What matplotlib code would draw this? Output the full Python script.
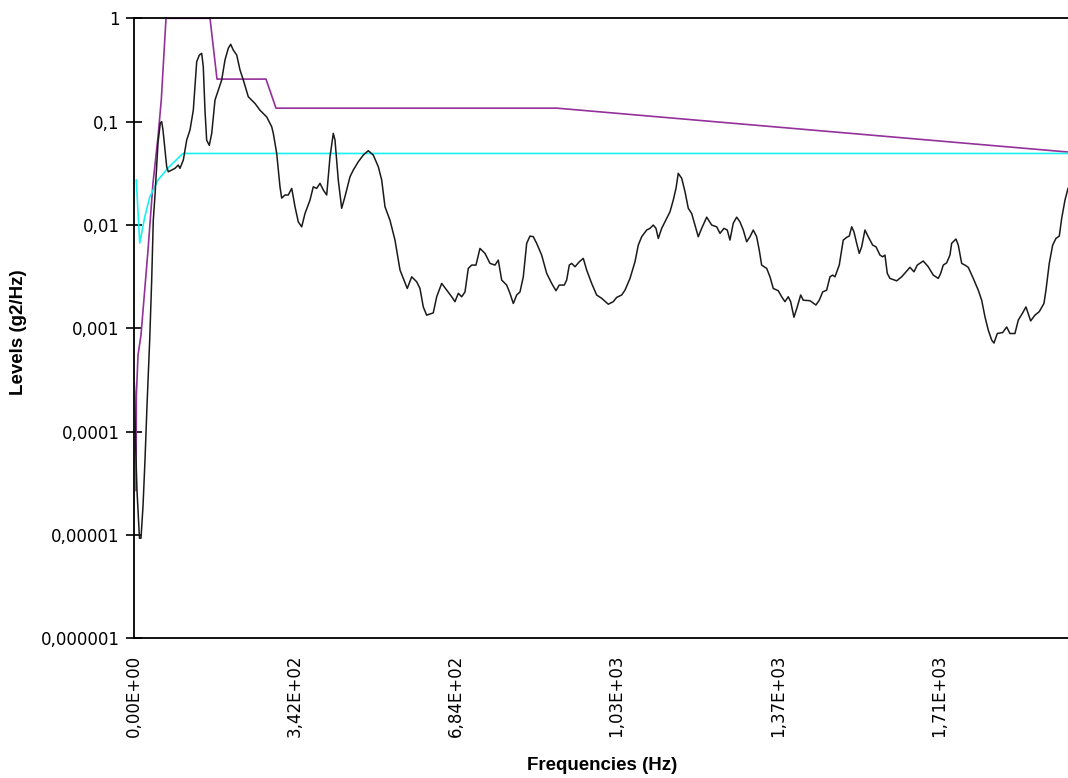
import matplotlib
matplotlib.use("Agg")
import matplotlib.pyplot as plt
import numpy as np
from matplotlib.ticker import FixedLocator, FixedFormatter, NullLocator

# ---- data -------------------------------------------------------------
meas_freq = [0, 2.5, 4.2, 7.4, 12.7, 15.9, 20.2, 24.4, 28.7, 34.4, 38.6, 42.0, 45.7, 52.0,
             56.9, 59.9, 62.6, 70.5, 73.9, 81.1, 88.1, 95.1, 98.7, 105.8, 113, 120, 127,
             134.2, 139.7, 144.8, 148.2, 151.8, 155.4, 161, 166.1, 173.1, 180.1, 187.3,
             194.3, 201.3, 206.4, 211.9, 219.2, 226.2, 233.2, 243.8, 258, 268.6, 282.9,
             293.5, 296.9, 304.1, 311.1, 314.7, 321.7, 328.7, 336, 343, 350, 357.2, 364.2,
             374.8, 381.8, 389, 396.1, 403.1, 410.3, 417.3, 424.3, 427.9, 434.9, 442.1,
             449.1, 459.8, 466.8, 477.4, 488, 498.6, 509.2, 519.9, 527.1, 534.1, 544.7,
             555.3, 566, 573, 581.4, 590.8, 601.4, 608.4, 615.4, 622.6, 636.6, 643.9,
             654.5, 665.1, 675.7, 682.7, 689.8, 697, 704, 711, 718.2, 727.3, 735.8, 746.4,
             757.1, 767.7, 774.7, 781.9, 792.5, 799.5, 806.6, 813.8, 820.8, 827.8, 835,
             842, 849, 856.2, 866.8, 877.5, 888.1, 897.2, 904.2, 914.8, 919.9, 925.5,
             930.6, 937.6, 946.7, 955.2, 962.4, 973, 983.6, 994.3, 1008.3, 1018.9, 1026.1,
             1036.7, 1043.8, 1054.4, 1065, 1072, 1079.2, 1089.8, 1096.8, 1103.9, 1109.6,
             1114.5, 1121.7, 1132.3, 1139.3, 1146.3, 1152.1, 1156.9, 1164.2, 1171.2,
             1178.2, 1185.4, 1192.4, 1199.4, 1206.6, 1217.3, 1227.9, 1238.5, 1245.5, 1254,
             1261, 1266.7, 1273.7, 1281, 1288, 1295, 1302.2, 1309.2, 1316.2, 1323.4,
             1328.9, 1334, 1344.7, 1351.7, 1358.7, 1369.3, 1376.5, 1383.5, 1390.5, 1395.6,
             1402.6, 1409.6, 1416.9, 1422.4, 1436.6, 1449.3, 1456.4, 1463.6, 1472.1,
             1479.1, 1484.8, 1489.7, 1498.8, 1507.3, 1514.5, 1520.1, 1525.2, 1530, 1535.8,
             1541.3, 1546.4, 1553.4, 1560.4, 1569.8, 1576.8, 1585.3, 1591, 1595.9, 1600.8,
             1606.5, 1620.7, 1631.4, 1640.5, 1649, 1657.5, 1664.5, 1677.2, 1687.8, 1698.5,
             1709.1, 1714.2, 1719.7, 1726.9, 1733.9, 1737.5, 1746.7, 1751.6, 1758.8,
             1765.8, 1772.8, 1783.4, 1794, 1801.3, 1808.3, 1815.3, 1822.5, 1827.4, 1834.4,
             1845.9, 1854.4, 1861.3, 1871.9, 1879, 1888.3, 1895.3, 1905.3, 1914.4, 1923.6,
             1933.5, 1937.8, 1944.8, 1952, 1959, 1966.1, 1971.2, 1978.2, 1984.6]
meas_level = [4.7e-4, 2.4e-4, 8.3e-5, 2.7e-5, 9.3e-6, 9.3e-6, 1.9e-5, 5.3e-5, 1.8e-4, 7.7e-4,
              2.9e-3, 0.0111, 0.0195, 0.062, 0.097, 0.0998, 0.083, 0.0366, 0.0327, 0.034,
              0.0353, 0.038, 0.0353, 0.0425, 0.0664, 0.083, 0.129, 0.38, 0.44, 0.458, 0.34,
              0.129, 0.066, 0.059, 0.077, 0.162, 0.202, 0.253, 0.395, 0.513, 0.56, 0.493,
              0.441, 0.316, 0.253, 0.174, 0.150, 0.129, 0.111, 0.0893, 0.077, 0.0493,
              0.0234, 0.0182, 0.0195, 0.0195, 0.0226, 0.015, 0.0107, 0.0096, 0.0129,
              0.0174, 0.0234, 0.0226, 0.0253, 0.0218, 0.0195, 0.0457, 0.077, 0.0664,
              0.0272, 0.0145, 0.0188, 0.0293, 0.034, 0.0409, 0.0475, 0.0523, 0.0475,
              0.0366, 0.0272, 0.015, 0.0111, 0.00714, 0.00366, 0.00304, 0.00243, 0.00315,
              0.00282, 0.00243, 0.00161, 0.00134, 0.00141, 0.00202, 0.00272, 0.00234,
              0.00202, 0.00181, 0.00218, 0.00202, 0.00225, 0.0038, 0.00409, 0.00409,
              0.00593, 0.00531, 0.00425, 0.00409, 0.00457, 0.00293, 0.00262, 0.00218,
              0.00174, 0.0021, 0.00225, 0.00315, 0.00664, 0.00781, 0.0077, 0.00664,
              0.00511, 0.0034, 0.00272, 0.00231, 0.00262, 0.00262, 0.00293, 0.00409,
              0.00425, 0.00394, 0.0044, 0.00475, 0.00366, 0.00272, 0.0021, 0.00195,
              0.00171, 0.00181, 0.00199, 0.0021, 0.00234, 0.00304, 0.0044, 0.00638,
              0.00769, 0.00893, 0.00927, 0.00998, 0.00927, 0.00741, 0.00927, 0.0116,
              0.0134, 0.0174, 0.0226, 0.0316, 0.0283, 0.021, 0.0145, 0.0129, 0.00998,
              0.00769, 0.00927, 0.0119, 0.00998, 0.0096, 0.0083, 0.00927, 0.00893,
              0.00714, 0.0104, 0.0119, 0.0107, 0.00893, 0.00688, 0.00769, 0.00893,
              0.00769, 0.00571, 0.00409, 0.0038, 0.00315, 0.00243, 0.00231, 0.00202,
              0.00181, 0.00202, 0.00181, 0.00128, 0.00161, 0.0021, 0.00187, 0.00185,
              0.00168, 0.00187, 0.00225, 0.00234, 0.00315, 0.00327, 0.00315, 0.00409,
              0.00714, 0.00759, 0.00781, 0.0096, 0.00859, 0.00664, 0.00531, 0.00615,
              0.00893, 0.00769, 0.00638, 0.00615, 0.00511, 0.00492, 0.00511, 0.0034,
              0.00304, 0.00288, 0.00315, 0.00352, 0.00389, 0.00352, 0.00409, 0.00448,
              0.00394, 0.00327, 0.00304, 0.0034, 0.00409, 0.0043, 0.00511, 0.00664,
              0.00731, 0.00638, 0.00425, 0.00409, 0.00389, 0.00304, 0.00234, 0.00187,
              0.00129, 0.00096, 0.00077, 0.00072, 0.00089, 0.00091, 0.00103, 0.00089,
              0.00089, 0.0012, 0.00141, 0.00161, 0.00118, 0.00134, 0.00145, 0.00174,
              0.00234, 0.00425, 0.00638, 0.00741, 0.00781, 0.0116, 0.0174, 0.0226]

upper_freq = [5.3, 6.0, 9.6, 15.9, 30.8, 41.4, 52, 59, 69, 162.5, 177.3, 281.4, 302.6,
              899.3, 1984.6]
upper_level = [2.7e-5, 2.2e-4, 5.5e-4, 8.6e-4, 5.7e-3, 0.0254, 0.071, 0.162, 1.0, 1.0,
               0.258, 0.258, 0.135, 0.135, 0.0508]

lower_freq = [5.9, 13.2, 23.8, 34.4, 52, 73.3, 105.1, 1984.6]
lower_level = [0.0272, 0.00668, 0.0119, 0.0186, 0.0272, 0.0356, 0.0492, 0.0492]

x_label_ticks = [0, 342, 684, 1026, 1368, 1710]
x_label_texts = ["0,00E+00", "3,42E+02", "6,84E+02", "1,03E+03", "1,37E+03", "1,71E+03"]
x_mark_ticks = [0, 684, 1368]
y_ticks = [1e-6, 1e-5, 1e-4, 1e-3, 1e-2, 1e-1, 1]
y_texts = ["0,000001", "0,00001", "0,0001", "0,001", "0,01", "0,1", "1"]

# ---- figure -----------------------------------------------------------
W, H = 1068, 778
fig = plt.figure(figsize=(W / 100, H / 100), dpi=100)
ax = fig.add_axes([133.5 / W, 1 - 638.3 / H, (W - 133.5) / W, (638.3 - 18.3) / H])

ax.plot(meas_freq, meas_level, color="#1a1a1a", lw=1.1, zorder=3)
ax.plot(upper_freq, upper_level, color="#93309a", lw=1.2, zorder=2)
ax.plot(lower_freq, lower_level, color="#19f0f0", lw=1.2, zorder=2)

ax.set_yscale("log")
ax.set_xlim(0, 1984.6)
ax.set_ylim(1e-6, 1)

ax.spines["right"].set_visible(False)
for s in ["left", "bottom", "top"]:
    ax.spines[s].set_linewidth(1.3)
    ax.spines[s].set_color("black")

# y ticks
ax.yaxis.set_major_locator(FixedLocator(y_ticks))
ax.yaxis.set_major_formatter(FixedFormatter(y_texts))
ax.yaxis.set_minor_locator(NullLocator())
ax.tick_params(axis="y", which="major", direction="inout", length=12, width=1.2,
               pad=4, labelsize=12)

# x: marks at 684 multiples, labels every 342
ax.xaxis.set_major_locator(FixedLocator(x_label_ticks))
ax.xaxis.set_major_formatter(FixedFormatter(x_label_texts))
ax.tick_params(axis="x", which="major", length=0, pad=12, labelsize=12, labelrotation=90)
ax.xaxis.set_minor_locator(FixedLocator(x_mark_ticks))
ax.tick_params(axis="x", which="minor", direction="inout", length=12, width=1.2)

for lab in ax.get_xticklabels() + ax.get_yticklabels():
    lab.set_fontfamily("DejaVu Sans")

fig.text(602 / W, 1 - 765 / H, "Frequencies (Hz)", ha="center", va="center",
         fontsize=13.5, fontweight="bold", family="Liberation Sans")
fig.text(18.5 / W, 1 - 332 / H, "Levels (g2/Hz)", ha="center", va="center",
         rotation=90, fontsize=13.5, fontweight="bold", family="Liberation Sans")

fig.savefig("out.png", dpi=100)
